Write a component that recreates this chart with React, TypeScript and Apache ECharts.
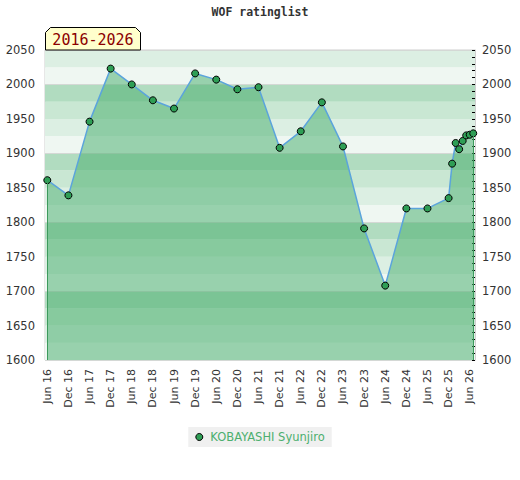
import React, { useEffect, useRef } from "react";
import * as echarts from "echarts";

const dates = [
  "2016-06", "2016-12", "2017-06", "2017-12", "2018-06", "2018-12",
  "2019-06", "2019-12", "2020-06", "2020-12", "2021-06", "2021-12",
  "2022-06", "2022-12", "2023-06", "2023-12", "2024-06", "2024-12",
  "2025-06", "2025-12", "2026-01", "2026-02", "2026-03", "2026-04",
  "2026-05", "2026-06", "2026-07",
];
const ratings = [
  1861, 1839, 1946, 2023, 2000, 1977, 1965, 2016, 2007, 1993, 1996, 1908,
  1932, 1974, 1910, 1791, 1708, 1820, 1820, 1835, 1885, 1915, 1906, 1918,
  1926, 1927, 1929,
];
const playerName = "KOBAYASHI Syunjiro";
const chartTitle = "WOF ratinglist";
const periodLabel = "2016-2026";
const tickDates = [
  "2016-06", "2016-12", "2017-06", "2017-12", "2018-06", "2018-12",
  "2019-06", "2019-12", "2020-06", "2020-12", "2021-06", "2021-12",
  "2022-06", "2022-12", "2023-06", "2023-12", "2024-06", "2024-12",
  "2025-06", "2025-12", "2026-06",
];
const monthNames = ["Jan", "Feb", "Mar", "Apr", "May", "Jun", "Jul", "Aug", "Sep", "Oct", "Nov", "Dec"];
const yMin = 1600;
const yMax = 2050;

const BASE_YEAR = 2016;
const BASE_MONTH = 5; // June

function monthIndex(d: string): number {
  const [y, m] = d.split("-").map(Number);
  return (y - BASE_YEAR) * 12 + (m - 1) - BASE_MONTH;
}
function monthLabel(v: number): string {
  const total = Math.round(v) + BASE_MONTH;
  const y = BASE_YEAR + Math.floor(total / 12);
  const m = ((total % 12) + 12) % 12;
  return monthNames[m] + " " + String(y % 100).padStart(2, "0");
}

export default function App() {
  const ref = useRef<HTMLDivElement>(null);
  useEffect(() => {
    if (!ref.current) return;
    const chart = echarts.init(ref.current, undefined, { renderer: "svg" });
    const data = dates.map((d, i) => [monthIndex(d), ratings[i]]);
    const first = data[0];
    const last = data[data.length - 1];
    const font = "DejaVu Sans";
    const plain = (v: number) => String(v);
    chart.setOption({
      animation: false,
      backgroundColor: "#ffffff",
      title: {
        text: chartTitle,
        left: "center",
        top: 6,
        padding: 0,
        textStyle: {
          fontFamily: "DejaVu Sans Mono",
          fontWeight: "bold",
          fontSize: 11.5,
          color: "#333333",
        },
      },
      grid: {
        left: 45,
        right: 45,
        top: 50,
        bottom: 120,
        show: true,
        borderColor: "#cfcfcf",
        borderWidth: 1,
      },
      legend: {
        bottom: 33,
        left: "center",
        backgroundColor: "#f0f0f0",
        padding: [4, 7, 4, 7],
        itemWidth: 12,
        itemHeight: 7,
        icon: "circle",
        textStyle: { color: "#4caf6e", fontFamily: font, fontSize: 11.5 },
        data: [{ name: playerName, itemStyle: { color: "#2e9e55", borderColor: "#000", borderWidth: 1 } }],
      },
      xAxis: {
        type: "value",
        min: -0.65,
        max: 121.5,
        axisLine: { show: false },
        axisTick: { show: false },
        splitLine: { show: false },
        axisLabel: {
          customValues: tickDates.map(monthIndex),
          rotate: 90,
          margin: 9,
          fontSize: 11,
          fontFamily: font,
          color: "#333333",
          formatter: (v: number) => monthLabel(v),
        },
      },
      yAxis: [
        {
          type: "value",
          position: "left",
          min: yMin,
          max: yMax,
          interval: 50,
          axisLine: { show: false },
          axisTick: { show: false },
          splitLine: { show: false },
          axisLabel: { margin: 10, fontSize: 11.5, fontFamily: font, color: "#333333", formatter: plain },
        },
        {
          type: "value",
          position: "right",
          min: yMin,
          max: yMax,
          interval: 50,
          axisLine: { show: true, lineStyle: { color: "#d0d0d0" } },
          axisTick: { show: true, inside: true, length: 3, lineStyle: { color: "#000" } },
          minorTick: { show: true, splitNumber: 5, length: 3, lineStyle: { color: "#000" } },
          splitLine: { show: false },
          axisLabel: { margin: 7, fontSize: 11.5, fontFamily: font, color: "#333333", formatter: plain },
        },
        {
          type: "value",
          position: "left",
          min: yMin,
          max: yMax,
          interval: 25,
          axisLine: { show: false },
          axisTick: { show: false },
          axisLabel: { show: false },
          splitLine: { show: false },
          splitArea: {
            show: true,
            areaStyle: { color: ["#eff7f2", "#dcefe3", "#c9e7d3", "#b1dcc0"] },
          },
        },
        {
          type: "value",
          position: "left",
          min: yMin,
          max: yMax,
          interval: 100,
          axisLine: { show: false },
          axisTick: { show: false },
          axisLabel: { show: false },
          splitLine: { show: true, lineStyle: { color: "#d4d8d5", width: 1 } },
        },
      ],
      series: [
        {
          name: playerName,
          type: "line",
          yAxisIndex: 0,
          data,
          symbol: "circle",
          symbolSize: 7,
          itemStyle: { color: "#2e9e55", borderColor: "#000000", borderWidth: 1 },
          lineStyle: { color: "#5ba4dc", width: 1.5 },
          areaStyle: { color: "rgba(75,175,112,0.53)", opacity: 1, origin: "start" },
          z: 3,
          markLine: {
            silent: true,
            symbol: "none",
            label: { show: false },
            lineStyle: { color: "#3c9a5c", width: 1, type: "solid" },
            data: [
              [{ coord: [first[0], yMin] }, { coord: [first[0], first[1]] }],
              [{ coord: [last[0], yMin] }, { coord: [last[0], last[1]] }],
            ],
          },
        },
      ],
      graphic: [
        {
          type: "polygon",
          shape: {
            points: [
              [45.5, 50],
              [45.5, 32.5],
              [50.5, 27.5],
              [135.5, 27.5],
              [140.5, 32.5],
              [140.5, 50],
            ],
          },
          style: { fill: "#ffffcc", stroke: "#000000", lineWidth: 1 },
          z: 10,
        },
        {
          type: "text",
          x: 93,
          y: 40,
          style: {
            text: periodLabel,
            fill: "#8b0000",
            font: "15px 'DejaVu Sans Mono'",
            align: "center",
            verticalAlign: "middle",
          },
          z: 11,
        },
      ],
    });
    return () => chart.dispose();
  }, []);
  return (
    <div
      ref={ref}
      style={{ position: "fixed", left: 0, top: 0, width: 520, height: 480 }}
    />
  );
}
